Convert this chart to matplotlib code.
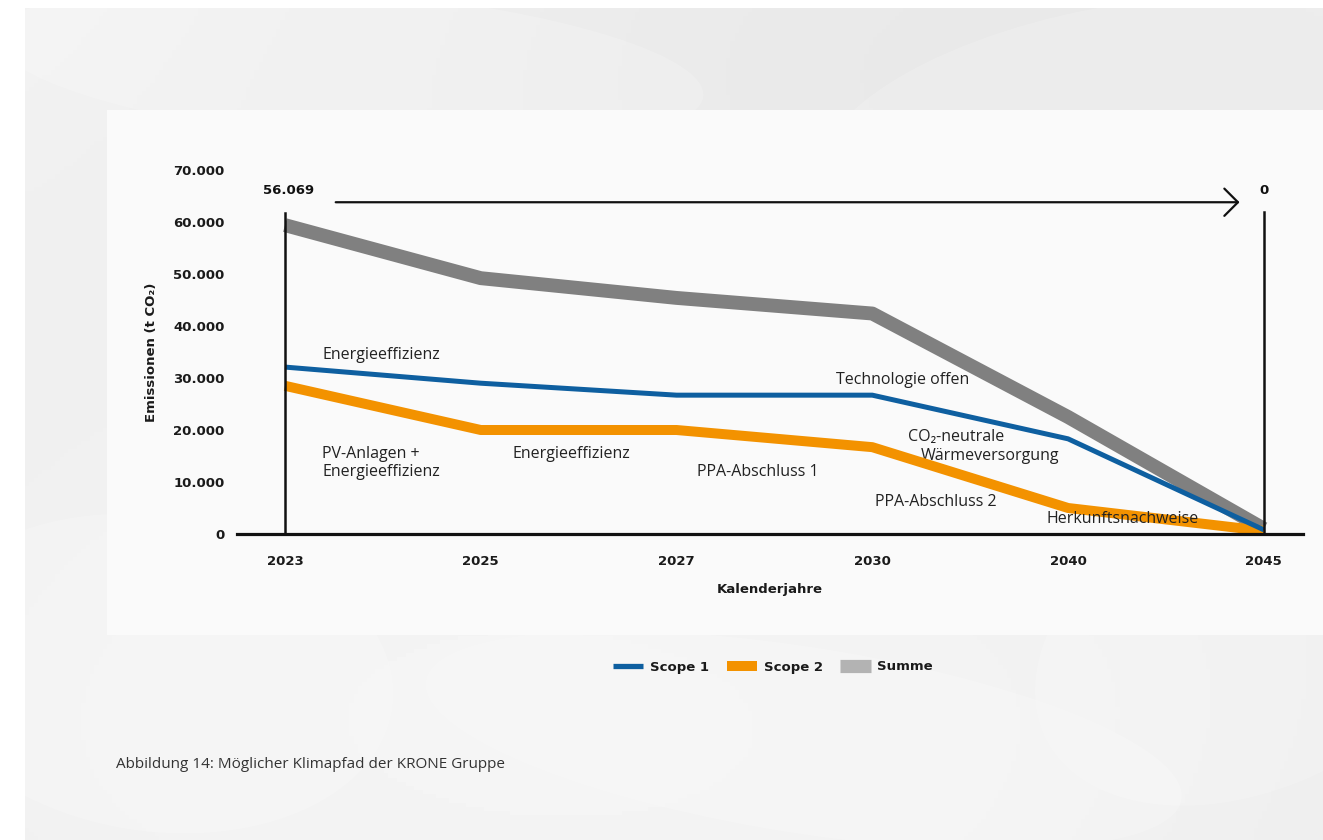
import numpy as np
import matplotlib
matplotlib.use("Agg")
import matplotlib.pyplot as plt
from matplotlib.lines import Line2D
from matplotlib.patches import Rectangle, Ellipse

# Daten
years = ['2023', '2025', '2027', '2030', '2040', '2045']
scope1 = [32100, 29000, 26700, 26700, 18300, 800]
scope2 = [28500, 20000, 20000, 16700, 5000, 600]
summe = [59400, 49200, 45400, 42400, 22500, 1000]
y_ticks = [0, 10000, 20000, 30000, 40000, 50000, 60000, 70000]
y_tick_labels = ['0', '10.000', '20.000', '30.000', '40.000', '50.000', '60.000', '70.000']
start_value = '56.069'
end_value = '0'

# Farben
c_blue = '#0e5fa0'
c_orange = '#f39200'
c_gray = '#808080'
c_gray_legend = '#b3b3b3'

W, H = 1323, 840
fig = plt.figure(figsize=(W / 100, H / 100), dpi=100)
fig.patch.set_facecolor('white')

# Hintergrund (helle Blattstruktur, nur angedeutet)
bg = fig.add_axes([25 / W, 0, 1 - 25 / W, 1 - 8 / H])
bg.set_xlim(0, 1)
bg.set_ylim(0, 1)
bg.axis('off')
gx, gy = np.meshgrid(np.linspace(0, 1, 300), np.linspace(0, 1, 200))
shade = 0.935 + 0.014 * np.sin(3.1 * gx + 2.3 * gy) + 0.01 * np.cos(5.0 * gy - 1.7 * gx)
bg.imshow(shade, extent=(0, 1, 0, 1), cmap='gray', vmin=0, vmax=1, aspect='auto', origin='lower')
for (cx, cy, w, h, ang) in [(0.25, 0.93, 0.55, 0.18, -8), (0.85, 0.85, 0.5, 0.3, 20),
                            (0.1, 0.2, 0.35, 0.4, 35), (0.6, 0.12, 0.6, 0.22, -15),
                            (0.95, 0.25, 0.3, 0.45, -30)]:
    bg.add_patch(Ellipse((cx, cy), w, h, angle=ang, color='white', alpha=0.18, lw=0))

# weißes Panel
bg.add_patch(Rectangle((107 / W, 1 - 635 / H), (1323 - 107) / W, (635 - 110) / H,
                       transform=fig.transFigure, facecolor='#fbfbfb', alpha=0.95,
                       edgecolor='none', zorder=5))

ax = fig.add_axes([237 / W, 1 - 534 / H, (1303 - 237) / W, (534 - 170) / H])
ax.set_facecolor('none')
x = np.arange(len(years))

ax.plot(x, summe, color=c_gray, lw=10, solid_capstyle='butt', zorder=3)
ax.plot(x, scope2, color=c_orange, lw=7.2, solid_capstyle='butt', zorder=4)
ax.plot(x, scope1, color=c_blue, lw=3.6, solid_capstyle='butt', zorder=5)

ax.set_xlim(-0.245, 5.2)
ax.set_ylim(0, 70000)
ax.set_xticks(x)
ax.set_xticklabels(years)
ax.set_yticks(y_ticks)
ax.set_yticklabels(y_tick_labels)
ax.tick_params(length=0, labelsize=9.5)
ax.tick_params(axis='y', pad=9)
ax.tick_params(axis='x', pad=15)
for lab in ax.get_xticklabels() + ax.get_yticklabels():
    lab.set_fontweight('bold')
    lab.set_color('#1a1a1a')
for s in ['top', 'right', 'left']:
    ax.spines[s].set_visible(False)
ax.spines['bottom'].set_linewidth(2.3)
ax.spines['bottom'].set_color('#111111')
ax.spines['bottom'].set_zorder(6)

ax.set_xlabel('Kalenderjahre', fontsize=9.5, fontweight='bold', labelpad=11, color='#1a1a1a')
ax.set_ylabel('Emissionen (t CO₂)', fontsize=9.5, fontweight='bold', labelpad=11, color='#1a1a1a')

# senkrechte Linien und Pfeil
ax.plot([0, 0], [0, 61700], color='#111111', lw=1.8, zorder=6, clip_on=False)
ax.plot([5, 5], [0, 61900], color='#111111', lw=1.8, zorder=6, clip_on=False)
ax.annotate('', xy=(4.89, 63800), xytext=(0.245, 63800),
            arrowprops=dict(arrowstyle='->,head_length=0.7,head_width=0.7',
                            mutation_scale=14, color='#111111', lw=1.6), zorder=6)
ax.text(0.02, 66000, start_value, ha='center', va='center', fontsize=9.5,
        fontweight='bold', color='#111111')
ax.text(5.0, 66000, end_value, ha='center', va='center', fontsize=9.5,
        fontweight='bold', color='#111111')

# Maßnahmen
af = dict(fontsize=11.5, color='#222222', ha='left', va='center', fontweight='medium',
          family=['Open Sans', 'DejaVu Sans'])
ax.text(0.19, 34400, 'Energieeffizienz', **af)
ax.text(0.19, 13600, 'PV-Anlagen +\nEnergieeffizienz', linespacing=1.2, **af)
ax.text(1.164, 15400, 'Energieeffizienz', **af)
ax.text(2.104, 11900, 'PPA-Abschluss 1', **af)
ax.text(2.814, 29600, 'Technologie offen', **af)
ax.text(3.18, 18650, 'CO₂-neutrale', **af)
ax.text(3.248, 15000, 'Wärmeversorgung', **af)
ax.text(3.013, 6150, 'PPA-Abschluss 2', **af)
ax.text(3.892, 2900, 'Herkunftsnachweise', zorder=7, **af)

# Legende
handles = [Line2D([], [], color=c_blue, lw=3.8, solid_capstyle='butt'),
           Line2D([], [], color=c_orange, lw=7.2, solid_capstyle='butt'),
           Line2D([], [], color=c_gray_legend, lw=9.5, solid_capstyle='butt')]
leg = fig.legend(handles, ['Scope 1', 'Scope 2', 'Summe'], loc='center',
                 bbox_to_anchor=(773 / W, 1 - 667 / H), ncol=3, frameon=False,
                 handlelength=2.3, handletextpad=0.5, columnspacing=1.35,
                 prop=dict(size=9.5, weight='bold'))
for t in leg.get_texts():
    t.set_color('#1a1a1a')

fig.text(116 / W, 1 - 764 / H, 'Abbildung 14: Möglicher Klimapfad der KRONE Gruppe',
         fontsize=11, color='#333333', ha='left', va='center',
         family=['Open Sans', 'DejaVu Sans'])

fig.savefig('out.png', dpi=100)
